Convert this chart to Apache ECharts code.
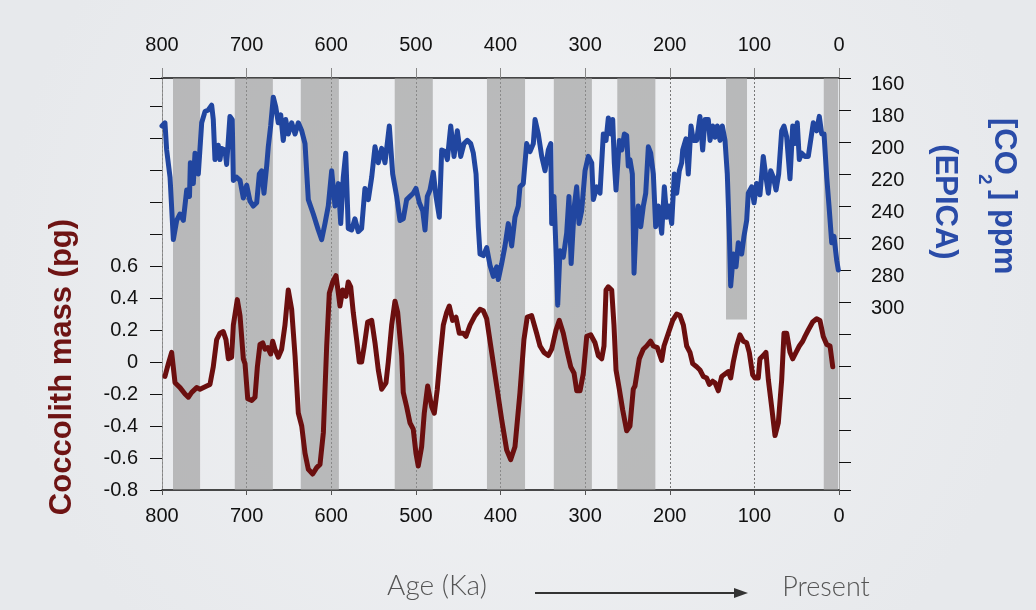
<!DOCTYPE html>
<html>
<head>
<meta charset="utf-8">
<script src="https://cdn.jsdelivr.net/npm/echarts@6/dist/echarts.min.js"></script>
<style>html,body{margin:0;padding:0;background:#eef0f3;}#chart{width:1036px;height:610px;}</style>
</head>
<body>
<div id="chart"></div>
<script>
// ---- Data (age in ka) ----
const ageTicks = [0, 100, 200, 300, 400, 500, 600, 700, 800];
const co2TickLabels = [160, 180, 200, 220, 240, 260, 280, 300];
const massTickLabels = ['-0.8', '-0.6', '-0.4', '-0.2', '0', '0.2', '0.4', '0.6'];

// CO2 (ppm, EPICA): [age ka, ppm]
const co2Data = [[800,190],[796.5,188],[794.5,205],[790.5,222],[786.6,261],[782.6,249],[778.7,245],[774.8,249],[770.8,230],[767.5,234],[766.5,213],[763,226],[761,207],[757.1,220],[753.1,188],[749.2,181],[745.3,180],[741.3,177],[739.4,186],[737.4,211],[733.5,202],[731.5,211],[729.5,204],[725.6,205],[723.6,214],[719.7,184],[717,186],[715.7,224],[711.8,222],[707.8,224],[703.9,235],[699.9,227],[696,237],[692.1,240],[688.1,238],[685,220],[682.2,218],[679.5,232],[676.3,215],[674.4,203],[671.6,190],[668.5,172],[665.6,178],[662.6,188],[659.7,183],[656.7,199],[653.8,186],[650.8,195],[646.8,188],[642.8,195],[638.9,188],[634.9,193],[631,201],[627.1,236],[621.2,245],[615.3,255],[611.3,261],[607.4,251],[603.5,240],[599.5,218],[595.6,240],[591.6,226],[588.8,251],[585.8,222],[582.9,207],[579.9,254],[575.9,255],[572,248],[568.1,256],[564.1,254],[560.2,229],[556.2,236],[552.2,222],[548.3,203],[544.4,213],[540.4,204],[536.5,213],[531.4,190],[527.4,220],[522.7,234],[518.8,249],[514.9,248],[510.9,236],[507,234],[503.1,232],[499.9,229],[495.9,238],[491.9,243],[489.2,255],[486.5,234],[483.3,230],[479.4,219],[476.2,234],[472.3,247],[469.5,205],[465.6,206],[462.8,211],[458.8,190],[454.9,209],[451,193],[447,209],[443.1,201],[439.2,199],[435.2,201],[432.1,207],[428.9,220],[426.2,253],[424.2,270],[420.3,271],[416.3,266],[412.4,277],[408.5,284],[404.5,278],[402.6,286],[400.6,285],[398.6,276],[394.7,265],[390.8,251],[386.8,265],[382.9,247],[379,240],[377,228],[373.1,226],[369.1,201],[365.1,206],[361.2,201],[359.2,186],[355.3,195],[351.3,209],[347.4,218],[343.5,205],[340.6,201],[339.5,251],[336.8,234],[334.4,268],[332.4,302],[329.7,268],[325.8,272],[321.8,257],[319.1,234],[316.5,276],[312.8,240],[310,228],[307.2,251],[304.1,243],[300.1,218],[296.2,209],[292.2,213],[290.3,236],[286.3,228],[282.4,232],[278.5,195],[275.3,199],[272.6,185],[269.4,195],[267.4,186],[265.5,213],[263.5,230],[259.6,199],[256.8,205],[253.6,195],[250.9,196],[249,215],[247,211],[244.2,220],[242.2,282],[239.9,253],[237.2,240],[234.3,253],[231.2,240],[228.4,232],[225.3,203],[222.5,207],[219.4,220],[216.6,253],[213.5,240],[209.5,257],[206.4,228],[203.6,247],[200.9,240],[197.7,251],[194.6,220],[191.8,232],[188.7,218],[185.9,213],[184.7,205],[180.8,198],[178.1,220],[174.9,190],[172.2,199],[168.2,199],[164.3,184],[161.1,205],[158.3,186],[154.4,186],[152.4,199],[149.2,190],[146.5,197],[143.8,190],[140.6,199],[137.9,190],[134.7,199],[132,220],[129.6,257],[128,290],[124.8,270],[121.7,278],[119,263],[115,270],[112.3,259],[109.1,249],[107.2,232],[103.2,228],[100.4,238],[97.3,226],[93.4,233],[89.5,209],[86.3,222],[83.5,232],[80.7,218],[77.6,222],[74.4,230],[71.3,220],[67.7,193],[65,190],[61.8,197],[57.9,223],[54.7,190],[52,201],[49.3,188],[46.9,211],[44.1,207],[40.2,209],[36.3,209],[30.4,188],[26.4,193],[23.3,184],[20.4,195],[17.7,195],[14.5,222],[11.8,240],[8.6,263],[5.9,259],[2.7,274],[0.8,280]];

// Coccolith mass anomaly (pg): [age ka, value]
const massData = [[796.5,-0.09],[792.5,-0.01],[788.6,0.06],[784.6,-0.13],[778.7,-0.16],[772.8,-0.20],[768.9,-0.22],[764.9,-0.19],[759,-0.16],[755.1,-0.17],[747.2,-0.15],[743.3,-0.14],[739.4,-0.03],[735.4,0.14],[731.5,0.18],[727.6,0.19],[724.4,0.14],[721.6,0.02],[717.7,0.03],[715.7,0.23],[711,0.39],[707.8,0.29],[703.9,0.02],[701.9,-0.01],[698.7,-0.23],[694,-0.24],[690.1,-0.22],[687.3,-0.03],[684.2,0.11],[681,0.12],[678.3,0.08],[675.1,0.09],[671.6,0.05],[669.2,0.13],[666.5,0.08],[662.6,0.03],[658.6,0.08],[654.7,0.23],[650.8,0.45],[646.8,0.33],[642.8,0.04],[638.9,-0.32],[634.9,-0.40],[631,-0.57],[627.1,-0.67],[621.9,-0.70],[617.2,-0.66],[613.3,-0.64],[609.3,-0.44],[605.4,0.10],[602.3,0.43],[598.3,0.50],[594.4,0.54],[591.6,0.43],[589.7,0.35],[586.5,0.45],[582.6,0.41],[579.9,0.50],[577,0.47],[574,0.31],[570,0.14],[566.9,0.00],[564.1,0.00],[561,0.10],[557,0.25],[552.2,0.26],[548.3,0.12],[544.4,-0.05],[540.4,-0.17],[535.3,-0.13],[532.6,0.00],[528.6,0.23],[524.7,0.38],[521.5,0.31],[516.8,0.04],[514.9,-0.19],[510.9,-0.28],[507,-0.38],[503.1,-0.42],[499.9,-0.57],[497.2,-0.65],[493.2,-0.53],[490.1,-0.32],[486.1,-0.15],[481.3,-0.28],[478.2,-0.32],[474.7,-0.17],[471.5,0.02],[467.6,0.23],[463.6,0.31],[460.5,0.35],[456.6,0.26],[452.6,0.28],[448.7,0.18],[444,0.18],[440.8,0.16],[436,0.23],[430.1,0.29],[424.2,0.33],[420.3,0.32],[416.3,0.27],[410.4,0.06],[404.5,-0.15],[398.6,-0.36],[392.7,-0.55],[388,-0.61],[382.9,-0.53],[377,-0.19],[372.3,0.14],[368.4,0.28],[363.2,0.29],[357.3,0.18],[353.3,0.10],[348.6,0.06],[343.5,0.04],[339.5,0.08],[334.4,0.20],[330.5,0.26],[325.8,0.18],[321,0.06],[317,-0.03],[313.1,-0.07],[309.9,-0.18],[306,-0.18],[302.1,-0.07],[298.1,0.16],[293.4,0.17],[288.3,0.12],[284.4,0.04],[280.4,0.02],[277.7,0.10],[275.3,0.45],[272.6,0.47],[268.6,0.45],[265.9,0.23],[263.5,-0.05],[259.6,-0.17],[255.6,-0.30],[250.9,-0.43],[247,-0.40],[243.1,-0.17],[241.1,-0.15],[236,0.02],[231.3,0.08],[227.3,0.10],[222.6,0.13],[219.4,0.10],[214.7,0.09],[209.5,0.01],[206.8,0.10],[201.7,0.18],[196.5,0.26],[191.8,0.30],[187.9,0.29],[183.9,0.23],[180,0.10],[176.1,0.06],[172.9,-0.01],[168.2,-0.03],[164.3,-0.05],[160.4,-0.09],[156.4,-0.10],[153.3,-0.14],[149.3,-0.12],[146.5,-0.13],[142.6,-0.18],[138.6,-0.09],[133.5,-0.07],[130.8,-0.06],[128,-0.10],[124.9,0.00],[120.9,0.10],[117,0.17],[113.1,0.13],[109.1,0.12],[106,0.06],[102,-0.08],[99.3,-0.10],[95.4,-0.10],[93.4,0.02],[89.5,0.04],[86.3,0.06],[83.5,-0.11],[79.6,-0.28],[75.6,-0.46],[71.7,-0.38],[67.7,-0.11],[65,0.18],[61.8,0.18],[57.9,0.06],[54.7,0.02],[50.8,0.06],[46.9,0.10],[42.9,0.13],[40.2,0.16],[36.3,0.20],[31.1,0.25],[26.4,0.27],[22.5,0.26],[18.6,0.16],[14.5,0.11],[10.6,0.10],[8.5,0.09],[7.4,-0.03]];

// Glacial periods (gray bands), [older ka, younger ka]
const glacialBands = [[787,755],[714,669],[636,591],[525,480],[416,371],[337,292],[262,217],[18,1]];
// Partial band (drawn over CO2 range only): [older ka, younger ka, co2 top, co2 bottom]
const partialBand = [133.5, 108.7, 160, 311];

// ---- Chart ----
const chart = echarts.init(document.getElementById('chart'), null, {renderer: 'canvas'});
const FONT = '"Liberation Sans", Arial, Helvetica, sans-serif';
const BLUE = '#2146a0';
const RED = '#6b0f0f';

const bandAreas = glacialBands.map(b => [{xAxis: b[0]}, {xAxis: b[1]}]);
bandAreas.push([{xAxis: partialBand[0], yAxis: partialBand[2]}, {xAxis: partialBand[1], yAxis: partialBand[3]}]);

const option = {
  animation: false,
  backgroundColor: {
    type: 'radial', x: 0.5, y: 0.45, r: 0.85,
    colorStops: [{offset: 0, color: '#f2f3f5'}, {offset: 1, color: '#e7e9ec'}]
  },
  grid: {left: 162, right: 197, top: 78, height: 412, containLabel: false},
  xAxis: [
    {
      type: 'value', position: 'top', min: 0, max: 800, interval: 100, inverse: true,
      axisLine: {show: true, onZero: false, lineStyle: {color: '#111', width: 1.5}},
      axisTick: {show: true, length: 10, lineStyle: {color: '#888', width: 1}},
      axisLabel: {fontSize: 20, color: '#111', fontFamily: FONT, margin: 23,
        formatter: v => ageTicks.includes(v) ? String(v) : ''},
      splitLine: {show: true, lineStyle: {color: '#777', width: 1, type: [2, 2]}}
    },
    {
      type: 'value', position: 'bottom', min: 0, max: 800, interval: 100, inverse: true,
      axisLine: {show: true, onZero: false, lineStyle: {color: '#111', width: 1.5}},
      axisTick: {show: true, length: 5, lineStyle: {color: '#555', width: 1}},
      axisLabel: {fontSize: 20, color: '#111', fontFamily: FONT, margin: 16,
        formatter: v => ageTicks.includes(v) ? String(v) : ''},
      splitLine: {show: false}
    }
  ],
  yAxis: [
    {
      type: 'value', position: 'left', min: -0.8, max: 1.775, interval: 0.2,
      axisLine: {show: true, onZero: false, lineStyle: {color: '#999', width: 1, type: [2, 2]}},
      axisTick: {show: true, length: 12, lineStyle: {color: '#111', width: 1}},
      axisLabel: {fontSize: 20, color: '#111', fontFamily: FONT, margin: 24,
        formatter: v => {
          const s = String(Math.round(v * 10) / 10);
          return massTickLabels.includes(s) ? s : '';
        }},
      splitLine: {show: false}
    },
    {
      type: 'value', position: 'right', min: 160, max: 417.5, interval: 20, inverse: true,
      axisLine: {show: true, onZero: false, lineStyle: {color: '#aaa', width: 1}},
      axisTick: {show: true, length: 12, lineStyle: {color: '#111', width: 1}},
      axisLabel: {fontSize: 20, color: '#111', fontFamily: FONT, margin: 32,
        verticalAlign: 'top', lineHeight: 12,
        formatter: v => co2TickLabels.includes(Math.round(v)) ? String(Math.round(v)) : ''},
      splitLine: {show: false}
    }
  ],
  series: [
    {
      name: 'CO2', type: 'line', xAxisIndex: 0, yAxisIndex: 1,
      data: co2Data, showSymbol: false, symbol: 'none',
      lineStyle: {color: BLUE, width: 5, join: 'round', cap: 'round'},
      z: 3,
      markArea: {
        silent: true,
        itemStyle: {color: 'rgba(150,150,150,0.6)'},
        label: {show: false},
        data: bandAreas
      }
    },
    {
      name: 'Coccolith mass', type: 'line', xAxisIndex: 0, yAxisIndex: 0,
      data: massData, showSymbol: false, symbol: 'none',
      lineStyle: {color: RED, width: 5, join: 'round', cap: 'round'},
      z: 4
    }
  ],
  graphic: [
    {type: 'text', x: 62, y: 367, rotation: Math.PI / 2,
      style: {text: 'Coccolith mass (pg)', fill: '#6e1414', font: 'bold 31px ' + FONT, align: 'center', verticalAlign: 'middle'}},
    {type: 'text', x: 945, y: 202, rotation: -Math.PI / 2,
      style: {text: '(EPICA)', fill: '#2a4ca8', font: 'bold 31px ' + FONT, align: 'center', verticalAlign: 'middle'}},
    {type: 'text', x: 1004, y: 118, rotation: -Math.PI / 2,
      style: {text: '[CO', fill: '#2a4ca8', font: 'bold 31px ' + FONT, align: 'left', verticalAlign: 'middle'}},
    {type: 'text', x: 984, y: 174, rotation: -Math.PI / 2,
      style: {text: '2', fill: '#2a4ca8', font: 'bold 19px ' + FONT, align: 'left', verticalAlign: 'middle'}},
    {type: 'text', x: 1004, y: 190, rotation: -Math.PI / 2,
      style: {text: '] ppm', fill: '#2a4ca8', font: 'bold 31px ' + FONT, align: 'left', verticalAlign: 'middle'}},
    {type: 'text', x: 437, y: 586,
      style: {text: 'Age (Ka)', fill: '#555', font: '300 28px Lato, "Open Sans", sans-serif', align: 'center', verticalAlign: 'middle'}},
    {type: 'text', x: 826, y: 587,
      style: {text: 'Present', fill: '#555', font: '300 27px Lato, "Open Sans", sans-serif', align: 'center', verticalAlign: 'middle'}},
    {type: 'line', shape: {x1: 535, y1: 593, x2: 736, y2: 593}, style: {stroke: '#333', lineWidth: 2}},
    {type: 'polygon', shape: {points: [[734, 588], [748, 593], [734, 598]]}, style: {fill: '#333'}}
  ]
};
chart.setOption(option);
</script>
</body>
</html>
